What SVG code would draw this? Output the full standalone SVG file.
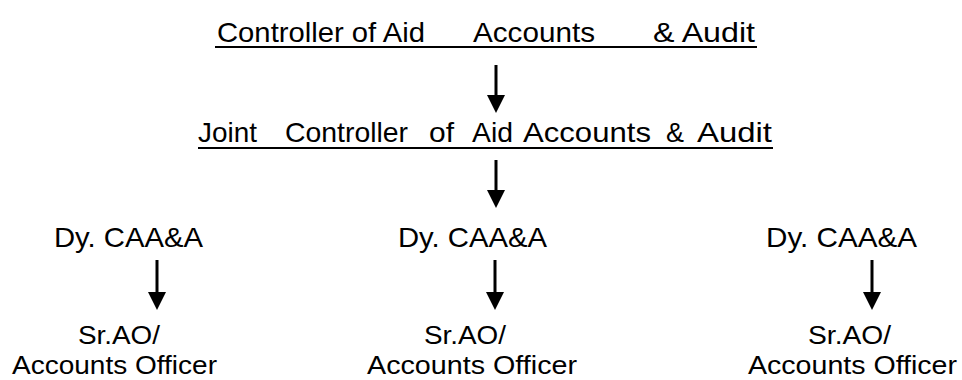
<svg xmlns="http://www.w3.org/2000/svg" width="962" height="380" viewBox="0 0 962 380">
<style>
text{font-family:"Liberation Sans",Arial,sans-serif;font-size:28px;fill:#000}
text.low{font-size:26px}
.ul{stroke:#000;stroke-width:2}
.conn line{stroke:#000;stroke-width:3}
</style>
<defs>
<marker id="ah" markerWidth="6" markerHeight="6" refX="0" refY="3" orient="auto" markerUnits="strokeWidth">
<path d="M0,0 L6,3 L0,6 Z" fill="#000"/>
</marker>
</defs>
<rect width="962" height="380" fill="#fff"/>
<g id="controller">
<text y="42"><tspan x="217" textLength="208" lengthAdjust="spacingAndGlyphs">Controller of Aid</tspan><tspan x="473" textLength="122" lengthAdjust="spacingAndGlyphs">Accounts</tspan><tspan x="653" textLength="102" lengthAdjust="spacingAndGlyphs">&amp; Audit</tspan></text>
<line class="ul" x1="215" y1="47" x2="757" y2="47"/>
</g>
<g id="joint-controller">
<text y="142"><tspan x="198" textLength="59" lengthAdjust="spacingAndGlyphs">Joint</tspan><tspan x="285" textLength="123" lengthAdjust="spacingAndGlyphs">Controller</tspan><tspan x="429" textLength="25" lengthAdjust="spacingAndGlyphs">of</tspan><tspan x="472" textLength="41" lengthAdjust="spacingAndGlyphs">Aid</tspan><tspan x="523" textLength="128" lengthAdjust="spacingAndGlyphs">Accounts</tspan><tspan x="666" textLength="18" lengthAdjust="spacingAndGlyphs">&amp;</tspan><tspan x="697" textLength="75" lengthAdjust="spacingAndGlyphs">Audit</tspan></text>
<line class="ul" x1="198" y1="148" x2="773" y2="148"/>
</g>
<g id="dy-1"><text x="54" y="247" textLength="149" lengthAdjust="spacingAndGlyphs">Dy. CAA&amp;A</text></g>
<g id="dy-2"><text x="398" y="247" textLength="149" lengthAdjust="spacingAndGlyphs">Dy. CAA&amp;A</text></g>
<g id="dy-3"><text x="766" y="247" textLength="151" lengthAdjust="spacingAndGlyphs">Dy. CAA&amp;A</text></g>
<g id="ao-1"><text class="low" x="78" y="344" textLength="82" lengthAdjust="spacingAndGlyphs">Sr.AO/</text><text class="low" x="12" y="374" textLength="205" lengthAdjust="spacingAndGlyphs">Accounts Officer</text></g>
<g id="ao-2"><text class="low" x="424" y="344" textLength="82" lengthAdjust="spacingAndGlyphs">Sr.AO/</text><text class="low" x="367" y="374" textLength="210" lengthAdjust="spacingAndGlyphs">Accounts Officer</text></g>
<g id="ao-3"><text class="low" x="808" y="344" textLength="83" lengthAdjust="spacingAndGlyphs">Sr.AO/</text><text class="low" x="748" y="374" textLength="209" lengthAdjust="spacingAndGlyphs">Accounts Officer</text></g>
<g id="connectors" class="conn">
<line x1="496" y1="65" x2="496" y2="95" marker-end="url(#ah)"/>
<line x1="496" y1="160" x2="496" y2="190" marker-end="url(#ah)"/>
<line x1="157" y1="260" x2="157" y2="292" marker-end="url(#ah)"/>
<line x1="495" y1="260" x2="495" y2="292" marker-end="url(#ah)"/>
<line x1="872" y1="260" x2="872" y2="292" marker-end="url(#ah)"/>
</g>
</svg>
